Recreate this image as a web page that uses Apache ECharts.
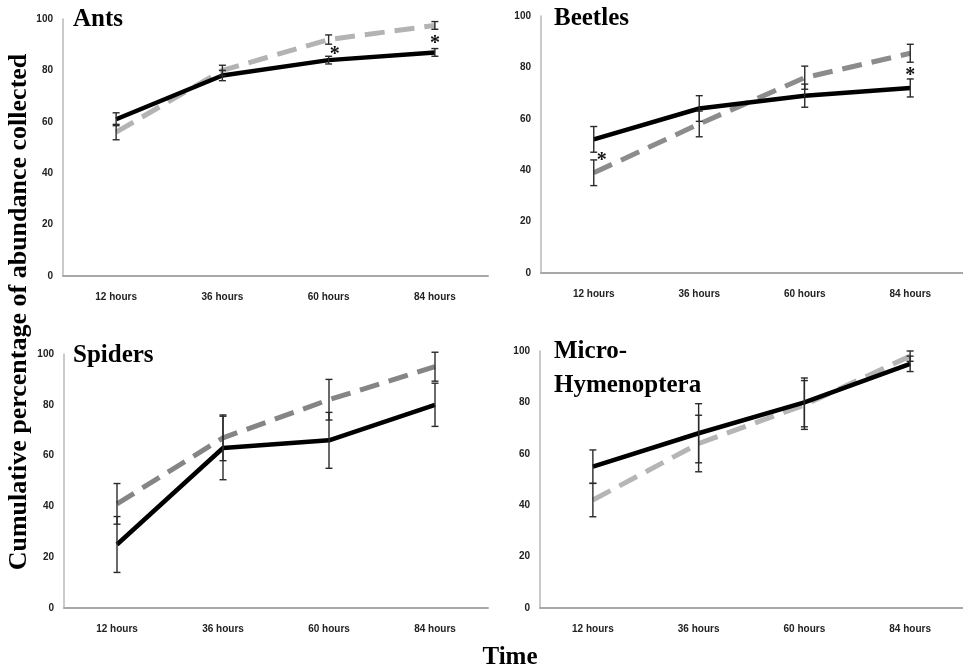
<!DOCTYPE html>
<html>
<head>
<meta charset="utf-8">
<script src="https://cdn.jsdelivr.net/npm/echarts@6/dist/echarts.min.js"></script>
<style>
html,body{margin:0;padding:0;background:#fff;}
#chart{width:963px;height:671px;}
</style>
</head>
<body>
<div id="chart"></div>
<script>
// ---------- DATA ----------
const categories = ['12 hours', '36 hours', '60 hours', '84 hours'];
const yTicks = [0, 20, 40, 60, 80, 100];

const panelTitles = [['Ants'], ['Beetles'], ['Spiders'], ['Micro-', 'Hymenoptera']];

const antsSolid = [61, 78, 84, 87];
const antsSolidErr = [2.5, 2, 1.5, 1.5];
const antsDashed = [56, 80, 92, 97.5];
const antsDashedErr = [3, 2, 1.8, 1.5];
const antsStars = [[2, 87.7], [3, 91.8]];

const beetlesSolid = [52, 64, 69, 72];
const beetlesSolidErr = [5, 5, 4.5, 3.5];
const beetlesDashed = [39, 58, 76, 85.5];
const beetlesDashedErr = [5, 5, 4.5, 3.5];
const beetlesStars = [[0, 45.3], [3, 78.2]];

const spidersSolid = [25, 63, 66, 80];
const spidersSolidErr = [11, 12.5, 11, 8.5];
const spidersDashed = [41, 67, 82, 95];
const spidersDashedErr = [8, 9, 8, 5.7];
const spidersStars = [];

const microSolid = [55, 68, 80, 95];
const microSolidErr = [6.5, 11.5, 9.5, 3];
const microDashed = [42, 64, 79, 98];
const microDashedErr = [6.5, 11, 9.5, 2];
const microStars = [];

// ---------- LAYOUT / STYLE ----------
const grids = [
  {left: 63, right: 475, top: 19, bottom: 395},
  {left: 541, right: 0, top: 16, bottom: 398},
  {left: 64, right: 475, top: 354, bottom: 63},
  {left: 540, right: 0, top: 351, bottom: 63}
];
const dashedColors = ['#b3b3b3', '#8c8c8c', '#858585', '#b5b5b5'];
const starOffsets = [[6, 0], [8, 0], [0, 0], [0, 0]];
const titlePos = [[73, 20, 34], [554, 19, 34], [73, 356, 34], [554, 352, 34]];

const panels = [
  {s: antsSolid, se: antsSolidErr, d: antsDashed, de: antsDashedErr, stars: antsStars},
  {s: beetlesSolid, se: beetlesSolidErr, d: beetlesDashed, de: beetlesDashedErr, stars: beetlesStars},
  {s: spidersSolid, se: spidersSolidErr, d: spidersDashed, de: spidersDashedErr, stars: spidersStars},
  {s: microSolid, se: microSolidErr, d: microDashed, de: microDashedErr, stars: microStars}
];

const tickFont = '"Liberation Sans Narrow", "Liberation Sans", Arial, sans-serif';
const serif = '"Liberation Serif", "DejaVu Serif", serif';

function errRender(params, api) {
  const x = api.value(0), y = api.value(1), e = api.value(2);
  const top = api.coord([x, y + e]);
  const bot = api.coord([x, y - e]);
  const hw = 3.5;
  const st = {stroke: '#2a2a2a', lineWidth: 1.4};
  return {
    type: 'group',
    children: [
      {type: 'line', shape: {x1: top[0], y1: top[1], x2: bot[0], y2: bot[1]}, style: st},
      {type: 'line', shape: {x1: top[0] - hw, y1: top[1], x2: top[0] + hw, y2: top[1]}, style: st},
      {type: 'line', shape: {x1: bot[0] - hw, y1: bot[1], x2: bot[0] + hw, y2: bot[1]}, style: st}
    ]
  };
}

function starRender(idx) {
  return function (params, api) {
    const p = api.coord([api.value(0), api.value(1)]);
    const off = starOffsets[idx][params.dataIndex] !== undefined ? starOffsets[idx][params.dataIndex] : 0;
    return {
      type: 'text',
      x: p[0] + off,
      y: p[1] + 4,
      style: {text: '*', font: 'bold 20px ' + serif, fill: '#111', align: 'center', verticalAlign: 'middle'}
    };
  };
}

const xAxes = [], yAxes = [], series = [], graphics = [];
panels.forEach((p, i) => {
  xAxes.push({
    type: 'category', gridIndex: i, data: categories, boundaryGap: true,
    axisLine: {show: true, lineStyle: {color: '#a8a8a8', width: 2}},
    axisTick: {show: false},
    axisLabel: {margin: 16, fontFamily: tickFont, fontWeight: 'bold', fontSize: 10, color: '#222'},
    splitLine: {show: false}
  });
  yAxes.push({
    type: 'value', gridIndex: i, min: yTicks[0], max: yTicks[yTicks.length - 1], interval: 20,
    axisLine: {show: true, lineStyle: {color: '#b8b8b8', width: 1.5}},
    axisTick: {show: false},
    axisLabel: {margin: 10, fontFamily: tickFont, fontWeight: 'bold', fontSize: 10, color: '#222'},
    splitLine: {show: false}
  });
  series.push({
    type: 'line', xAxisIndex: i, yAxisIndex: i, data: p.d, symbol: 'none', z: 2,
    lineStyle: {color: dashedColors[i], width: 5, type: [20, 10], cap: 'butt'}
  });
  series.push({
    type: 'line', xAxisIndex: i, yAxisIndex: i, data: p.s, symbol: 'none', z: 3,
    lineStyle: {color: '#000', width: 4.5}
  });
  series.push({
    type: 'custom', xAxisIndex: i, yAxisIndex: i, z: 4, renderItem: errRender,
    data: categories.map((c, k) => [k, p.d[k], p.de[k]])
  });
  series.push({
    type: 'custom', xAxisIndex: i, yAxisIndex: i, z: 4, renderItem: errRender,
    data: categories.map((c, k) => [k, p.s[k], p.se[k]])
  });
  if (p.stars.length) {
    series.push({
      type: 'custom', xAxisIndex: i, yAxisIndex: i, z: 5, renderItem: starRender(i),
      data: p.stars
    });
  }
  panelTitles[i].forEach((t, j) => {
    graphics.push({
      type: 'text', x: titlePos[i][0], y: titlePos[i][1] + j * titlePos[i][2],
      style: {text: t, font: 'bold 25px ' + serif, fill: '#000', align: 'left', verticalAlign: 'middle'}
    });
  });
});

graphics.push({
  type: 'text', x: 19, y: 312, rotation: Math.PI / 2,
  style: {text: 'Cumulative percentage of abundance collected', font: 'bold 26px ' + serif, fill: '#000', align: 'center', verticalAlign: 'middle'}
});
graphics.push({
  type: 'text', x: 510, y: 658,
  style: {text: 'Time', font: 'bold 25px ' + serif, fill: '#000', align: 'center', verticalAlign: 'middle'}
});

const chart = echarts.init(document.getElementById('chart'), null, {renderer: 'canvas'});
chart.setOption({
  animation: false,
  backgroundColor: '#fff',
  grid: grids,
  xAxis: xAxes,
  yAxis: yAxes,
  series: series,
  graphic: graphics
});
</script>
</body>
</html>
